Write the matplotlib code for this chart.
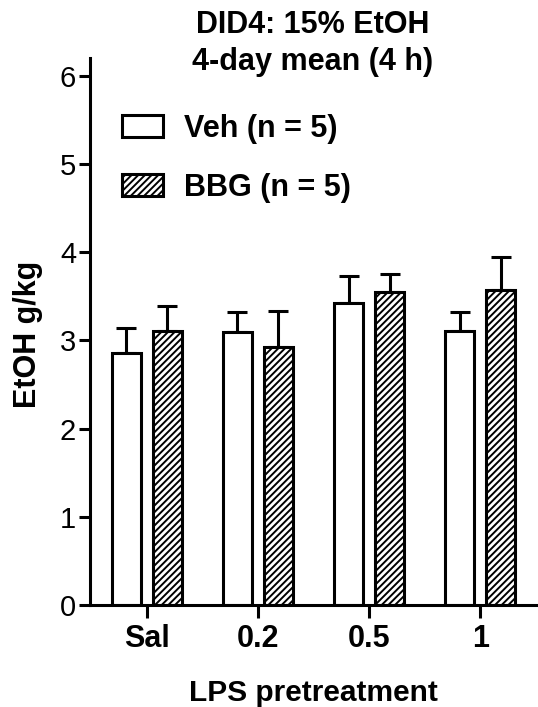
import matplotlib
matplotlib.use('Agg')
import matplotlib.pyplot as plt
import numpy as np

# Data
groups = ['Sal', '0.2', '0.5', '1']
veh_mean = [2.86, 3.09, 3.42, 3.11]
veh_sem = [0.28, 0.23, 0.31, 0.21]
bbg_mean = [3.11, 2.92, 3.55, 3.57]
bbg_sem = [0.28, 0.41, 0.20, 0.38]
legend_labels = ['Veh (n = 5)', 'BBG (n = 5)']
title_lines = ['DID4: 15% EtOH', '4-day mean (4 h)']

plt.rcParams['font.family'] = ['Liberation Sans', 'DejaVu Sans']
plt.rcParams['hatch.linewidth'] = 1.4

W, H = 538, 707
fig = plt.figure(figsize=(W / 100, H / 100), dpi=100)
ax = fig.add_axes([90 / W, 1 - 605 / H, 447 / W, 547 / H])

x = np.arange(len(groups))
bw = 0.26
off = 0.185
lw = 2.2
ekw = dict(elinewidth=lw, capthick=lw, capsize=7, ecolor='black')

ax.bar(x - off, veh_mean, bw, color='white', edgecolor='black', linewidth=lw,
       label=legend_labels[0], zorder=2)
ax.errorbar(x - off, veh_mean, yerr=[np.zeros(len(x)), veh_sem], fmt='none', zorder=1, **ekw)
ax.bar(x + off, bbg_mean, bw, color='white', edgecolor='black', linewidth=lw,
       hatch='/////', label=legend_labels[1], zorder=2)
ax.errorbar(x + off, bbg_mean, yerr=[np.zeros(len(x)), bbg_sem], fmt='none', zorder=1, **ekw)

ax.set_xlim(-0.51, 3.51)
ax.set_ylim(0, 6.2)
ax.set_yticks(range(7))
ax.set_xticks(x)
ax.set_xticklabels(groups, fontsize=22, fontweight='bold')
ax.tick_params(axis='y', labelsize=21, length=8, width=lw, pad=2)
ax.tick_params(axis='x', length=9, width=lw, pad=5)

for s in ['top', 'right']:
    ax.spines[s].set_visible(False)
for s in ['left', 'bottom']:
    ax.spines[s].set_linewidth(lw)

ax.set_ylabel('EtOH g/kg', fontsize=22, fontweight='bold')
ax.yaxis.set_label_coords(-0.105, 0.495)
ax.set_xlabel('LPS pretreatment', fontsize=21.5, fontweight='bold', labelpad=18)

# two-line title, placed by baseline
for i, line in enumerate(title_lines):
    fig.text(313 / W, 1 - (33 + 37 * i) / H, line, fontsize=22, fontweight='bold',
             ha='center', va='baseline')

ax.legend(loc='upper left', bbox_to_anchor=(94 / W, 1 - 86 / H),
          bbox_transform=fig.transFigure, frameon=False,
          prop={'size': 22, 'weight': 'bold'}, handlelength=1.35,
          handleheight=0.72, handletextpad=0.7, labelspacing=0.95)

fig.savefig('out.png', dpi=100)
